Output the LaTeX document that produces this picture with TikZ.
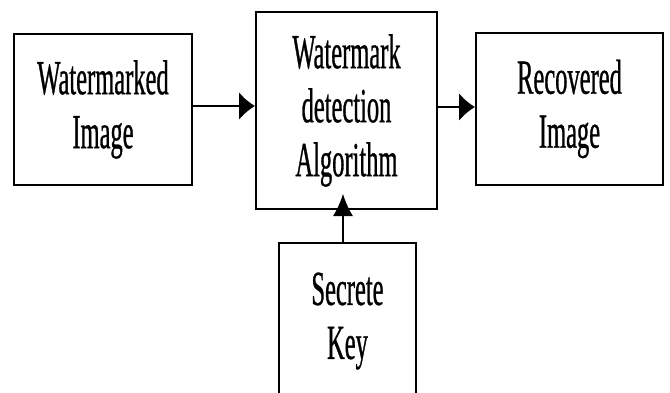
\documentclass[tikz,border=0pt]{standalone}
\usepackage{fontspec}
\setmainfont{Liberation Serif}
\newfontfamily\condfont[FakeStretch=0.5,FakeBold=0.6]{Liberation Serif}
\usetikzlibrary{arrows.meta}
\begin{document}
\begin{tikzpicture}[x=1pt,y=-1pt,
  box/.style={draw, line width=2pt, align=center, inner sep=0pt,
    font=\condfont\fontsize{49}{54}\selectfont},
  conn/.style={line width=2pt, -{Latex[length=16pt,width=28pt]}},
  connthin/.style={line width=1.3pt, -{Latex[length=22pt,width=20pt]}}]
\useasboundingbox (0,0) rectangle (670,392);
\clip (0,0) rectangle (670,392);
\node[box, minimum width=178pt, minimum height=151pt] (wi) at (103,109.5) {Watermarked\\Image};
\node[box, minimum width=181pt, minimum height=197pt] (da) at (346.5,110.5) {Watermark\\detection\\Algorithm};
\node[box, minimum width=187pt, minimum height=152pt] (ri) at (569.5,109) {Recovered\\Image};
\node[box, minimum width=137pt, minimum height=156pt] (sk) at (347.5,321) {Secrete\\Key};
\coordinate (y1) at (0,106);
\coordinate (y2) at (0,107);
\coordinate (x3) at (343,0);
\draw[conn] (wi.east |- y1) -- (da.west |- y1);
\draw[conn] (da.east |- y2) -- (ri.west |- y2);
\draw[connthin] (sk.north -| x3) -- ([yshift=16pt]da.south -| x3);
\end{tikzpicture}
\end{document}
